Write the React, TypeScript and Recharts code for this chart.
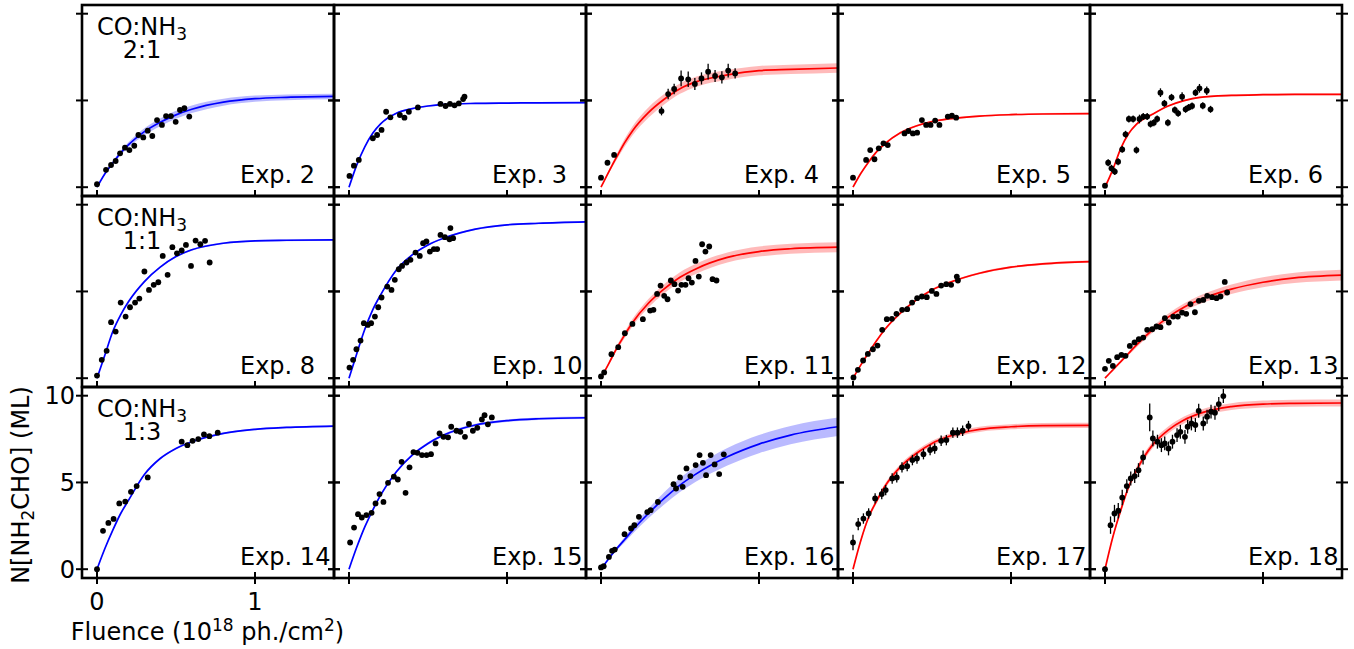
import React from "react";
import { ComposedChart, Line, Area, Scatter, ErrorBar, XAxis, YAxis } from "recharts";

// fluence grid used for the fitted curves (10^18 ph./cm^2)
const fitX = [0, 0.05, 0.1, 0.15, 0.2, 0.3, 0.4, 0.5, 0.6, 0.8, 1.0, 1.2, 1.5];

const ratios = ["2:1", "1:1", "1:3"];

// Exp. 2
const exp2F = [0, 0.057, 0.089, 0.118, 0.146, 0.177, 0.205, 0.236, 0.262, 0.293, 0.321, 0.35, 0.38, 0.411, 0.437, 0.468, 0.498, 0.525, 0.553, 0.584];
const exp2N = [0.17, 1.0, 1.28, 1.51, 1.95, 2.28, 2.14, 2.39, 3.01, 2.87, 3.26, 2.95, 3.87, 3.59, 4.1, 4.1, 3.77, 4.45, 4.55, 4.07];
const exp2Fit = [0, 0.78, 1.4, 1.98, 2.45, 3.2, 3.74, 4.17, 4.49, 4.9, 5.1, 5.18, 5.23];
const exp2Band = [0, 0.05, 0.09, 0.12, 0.15, 0.2, 0.22, 0.23, 0.22, 0.2, 0.18, 0.17, 0.16];

// Exp. 3
const exp3F = [0.003, 0.031, 0.062, 0.151, 0.178, 0.206, 0.235, 0.262, 0.322, 0.351, 0.379, 0.436, 0.579, 0.611, 0.639, 0.668, 0.695, 0.722, 0.731];
const exp3N = [0.65, 1.24, 1.57, 2.82, 3.01, 3.3, 4.35, 4.03, 4.16, 4.01, 4.35, 4.6, 4.8, 4.68, 4.8, 4.72, 4.83, 5.08, 5.22];
const exp3Fit = [0, 1.3, 2.33, 3.11, 3.65, 4.26, 4.53, 4.68, 4.77, 4.83, 4.85, 4.86, 4.87];
const exp3Band = [0, 0.03, 0.04, 0.04, 0.04, 0.04, 0.04, 0.04, 0.04, 0.04, 0.04, 0.04, 0.04];

// Exp. 4
const exp4F = [0, 0.041, 0.083, 0.383, 0.425, 0.463, 0.507, 0.552, 0.594, 0.636, 0.678, 0.722, 0.765, 0.805, 0.849];
const exp4N = [0.55, 1.41, 1.86, 4.39, 5.37, 5.66, 6.27, 6.22, 5.95, 6.27, 6.66, 6.41, 6.33, 6.72, 6.56];
const exp4Err = [0.12, 0.12, 0.12, 0.25, 0.3, 0.3, 0.45, 0.45, 0.35, 0.35, 0.45, 0.35, 0.35, 0.4, 0.3];
const exp4Fit = [0, 0.9, 1.76, 2.57, 3.26, 4.3, 5.07, 5.68, 6.07, 6.47, 6.72, 6.79, 6.87];
const exp4Band = [0, 0.1, 0.17, 0.22, 0.26, 0.3, 0.3, 0.3, 0.29, 0.28, 0.27, 0.27, 0.27];

// Exp. 5
const exp5F = [0, 0.083, 0.109, 0.136, 0.163, 0.193, 0.22, 0.326, 0.351, 0.379, 0.406, 0.436, 0.463, 0.491, 0.52, 0.547, 0.6, 0.626, 0.653];
const exp5N = [0.55, 1.57, 2.14, 1.61, 2.24, 2.53, 2.43, 3.1, 3.24, 3.1, 3.14, 3.87, 3.59, 3.59, 3.84, 3.59, 4.07, 4.12, 4.01];
const exp5Fit = [0, 0.8, 1.47, 2.05, 2.49, 3.14, 3.53, 3.78, 3.93, 4.1, 4.18, 4.22, 4.24];
const exp5Band = [0, 0.04, 0.05, 0.05, 0.05, 0.05, 0.05, 0.05, 0.05, 0.05, 0.05, 0.05, 0.05];

// Exp. 6
const exp6F = [0, 0.02, 0.041, 0.062, 0.083, 0.109, 0.13, 0.151, 0.178, 0.199, 0.218, 0.242, 0.267, 0.288, 0.309, 0.33, 0.351, 0.376, 0.398, 0.421, 0.442, 0.463, 0.488, 0.51, 0.53, 0.551, 0.573, 0.598, 0.619, 0.644, 0.668];
const exp6N = [0.09, 1.41, 1.09, 0.9, 1.47, 2.18, 3.05, 3.93, 3.93, 2.14, 3.93, 4.07, 4.07, 3.64, 3.72, 3.93, 5.45, 4.83, 3.72, 5.18, 4.45, 4.26, 5.22, 4.49, 4.6, 4.68, 5.45, 5.7, 4.7, 5.56, 4.49];
const exp6Err = [0.15, 0.2, 0.2, 0.2, 0.2, 0.2, 0.2, 0.2, 0.2, 0.2, 0.25, 0.2, 0.2, 0.2, 0.2, 0.2, 0.25, 0.2, 0.2, 0.2, 0.2, 0.2, 0.25, 0.2, 0.2, 0.2, 0.2, 0.25, 0.2, 0.25, 0.2];
const exp6Fit = [0, 1.03, 2.24, 3.1, 3.64, 4.2, 4.68, 4.99, 5.18, 5.29, 5.33, 5.35, 5.35];
const exp6Band = [0, 0.04, 0.05, 0.05, 0.05, 0.05, 0.05, 0.05, 0.05, 0.05, 0.05, 0.05, 0.05];

// Exp. 8
const exp8F = [0, 0.03, 0.061, 0.089, 0.118, 0.15, 0.181, 0.209, 0.241, 0.268, 0.3, 0.329, 0.359, 0.388, 0.416, 0.447, 0.477, 0.506, 0.536, 0.563, 0.595, 0.624, 0.654, 0.684, 0.713];
const exp8N = [0.15, 1.06, 1.58, 3.23, 2.69, 4.36, 3.55, 4.09, 4.36, 4.59, 6.15, 5.09, 5.38, 5.53, 7.05, 5.96, 7.55, 7.2, 7.36, 7.68, 6.47, 7.93, 7.72, 7.92, 6.67];
const exp8Fit = [0, 1.34, 2.69, 3.65, 4.42, 5.57, 6.4, 7.01, 7.4, 7.78, 7.92, 7.95, 7.97];
const exp8Band = [0, 0.04, 0.05, 0.05, 0.05, 0.05, 0.05, 0.05, 0.05, 0.05, 0.05, 0.05, 0.05];

// Exp. 10
const exp10F = [0.003, 0.026, 0.047, 0.073, 0.094, 0.119, 0.14, 0.164, 0.185, 0.206, 0.242, 0.269, 0.29, 0.315, 0.336, 0.364, 0.389, 0.421, 0.448, 0.469, 0.49, 0.512, 0.537, 0.558, 0.579, 0.607, 0.636, 0.642, 0.659];
const exp10N = [0.61, 1.06, 1.67, 2.17, 3.17, 3.07, 3.17, 3.55, 4.09, 4.65, 5.28, 5.09, 5.67, 6.28, 6.47, 6.67, 6.82, 7.24, 7.05, 7.78, 7.88, 7.3, 7.44, 7.44, 8.26, 8.13, 8.01, 8.65, 8.07];
const exp10Fit = [0, 1.44, 2.82, 3.94, 4.8, 6.24, 7.11, 7.68, 8.07, 8.59, 8.84, 8.93, 9.01];
const exp10Band = [0, 0.04, 0.05, 0.05, 0.05, 0.05, 0.05, 0.05, 0.05, 0.05, 0.05, 0.05, 0.05];

// Exp. 11
const exp11F = [0, 0.02, 0.066, 0.109, 0.151, 0.199, 0.265, 0.311, 0.332, 0.355, 0.377, 0.4, 0.421, 0.442, 0.465, 0.488, 0.509, 0.535, 0.554, 0.575, 0.598, 0.619, 0.64, 0.661, 0.685, 0.706, 0.731];
const exp11N = [0.1, 0.33, 1.38, 1.79, 2.59, 3.13, 3.4, 3.9, 3.94, 4.86, 5.34, 4.75, 4.55, 5.63, 5.42, 5.05, 5.38, 5.38, 5.76, 5.51, 6.76, 5.86, 7.72, 7.3, 7.59, 5.71, 5.63];
const exp11Fit = [0, 0.86, 1.73, 2.5, 3.21, 4.32, 5.15, 5.82, 6.3, 6.96, 7.3, 7.46, 7.55];
const exp11Band = [0, 0.08, 0.14, 0.18, 0.21, 0.25, 0.27, 0.28, 0.29, 0.29, 0.29, 0.29, 0.29];

// Exp. 12
const exp12F = [0.003, 0.031, 0.064, 0.094, 0.126, 0.155, 0.185, 0.214, 0.246, 0.275, 0.311, 0.343, 0.374, 0.406, 0.436, 0.467, 0.499, 0.528, 0.558, 0.59, 0.621, 0.657, 0.664];
const exp12N = [0.04, 0.48, 1.02, 1.4, 1.67, 1.88, 2.79, 3.4, 3.42, 3.71, 3.94, 3.98, 4.36, 4.61, 4.71, 4.67, 5.03, 4.86, 5.34, 5.42, 5.38, 5.86, 5.63];
const exp12Fit = [0, 0.77, 1.48, 2.17, 2.79, 3.75, 4.51, 5.09, 5.48, 6.05, 6.4, 6.59, 6.72];
const exp12Band = [0, 0.04, 0.06, 0.06, 0.06, 0.06, 0.06, 0.06, 0.06, 0.06, 0.06, 0.06, 0.06];

// Exp. 13
const exp13F = [0, 0.024, 0.05, 0.077, 0.104, 0.13, 0.157, 0.187, 0.214, 0.242, 0.267, 0.299, 0.326, 0.351, 0.379, 0.404, 0.432, 0.461, 0.488, 0.514, 0.541, 0.569, 0.594, 0.622, 0.647, 0.678, 0.706, 0.731, 0.758, 0.773];
const exp13N = [0.54, 1.0, 0.71, 1.21, 1.34, 1.29, 1.86, 2.06, 2.25, 2.34, 2.79, 2.82, 2.98, 2.94, 3.46, 3.21, 3.55, 3.55, 3.78, 3.71, 4.27, 3.8, 4.46, 4.51, 4.75, 4.67, 4.61, 4.71, 5.55, 4.94];
const exp13Fit = [0, 0.48, 0.96, 1.44, 1.92, 2.79, 3.52, 4.09, 4.52, 5.13, 5.53, 5.78, 5.94];
const exp13Band = [0, 0.04, 0.07, 0.1, 0.13, 0.17, 0.2, 0.22, 0.24, 0.27, 0.29, 0.3, 0.31];

// Exp. 14
const exp14F = [0, 0.038, 0.072, 0.105, 0.141, 0.179, 0.215, 0.251, 0.321, 0.536, 0.572, 0.605, 0.641, 0.677, 0.711, 0.764];
const exp14N = [0, 2.21, 2.67, 2.9, 3.79, 3.9, 4.46, 4.79, 5.29, 7.35, 7.15, 7.4, 7.5, 7.77, 7.67, 7.87];
const exp14Fit = [0, 1.19, 2.25, 3.21, 3.98, 5.46, 6.38, 6.96, 7.35, 7.83, 8.06, 8.17, 8.25];
const exp14Band = [0, 0.04, 0.05, 0.05, 0.05, 0.05, 0.05, 0.05, 0.05, 0.05, 0.05, 0.05, 0.05];

// Exp. 15
const exp15F = [0.007, 0.032, 0.057, 0.081, 0.11, 0.143, 0.168, 0.193, 0.218, 0.247, 0.284, 0.309, 0.333, 0.358, 0.383, 0.408, 0.433, 0.462, 0.491, 0.519, 0.548, 0.573, 0.598, 0.627, 0.647, 0.68, 0.705, 0.734, 0.759, 0.784, 0.812, 0.841, 0.858, 0.879, 0.904];
const exp15N = [1.54, 2.4, 3.17, 2.98, 3.12, 3.25, 3.79, 4.33, 3.88, 4.98, 5.33, 5.17, 6.19, 4.4, 5.87, 6.75, 6.71, 6.58, 6.58, 6.63, 7.25, 7.83, 7.63, 7.6, 8.21, 7.98, 7.92, 7.63, 8.37, 7.98, 8.15, 8.63, 8.88, 8.35, 8.75];
const exp15Fit = [0, 1.29, 2.44, 3.4, 4.27, 5.62, 6.58, 7.25, 7.73, 8.31, 8.56, 8.67, 8.73];
const exp15Band = [0, 0.04, 0.06, 0.06, 0.07, 0.07, 0.07, 0.07, 0.07, 0.07, 0.07, 0.07, 0.07];

// Exp. 16
const exp16F = [0, 0.017, 0.05, 0.07, 0.087, 0.149, 0.19, 0.211, 0.24, 0.293, 0.314, 0.36, 0.459, 0.475, 0.5, 0.517, 0.541, 0.566, 0.599, 0.624, 0.645, 0.665, 0.694, 0.719, 0.748, 0.777];
const exp16N = [0.1, 0.17, 0.71, 1.06, 1.13, 2.02, 2.35, 2.54, 3.02, 3.29, 3.4, 3.88, 4.9, 4.65, 5.29, 4.75, 5.81, 5.37, 6.0, 6.58, 6.13, 5.42, 6.58, 6.04, 5.48, 6.62];
const exp16Fit = [0, 0.62, 1.19, 1.71, 2.25, 3.21, 4.08, 4.85, 5.48, 6.48, 7.21, 7.73, 8.21];
const exp16Band = [0, 0.05, 0.1, 0.15, 0.2, 0.28, 0.35, 0.4, 0.44, 0.5, 0.52, 0.53, 0.53];

// Exp. 17
const exp17F = [0, 0.033, 0.066, 0.099, 0.14, 0.182, 0.207, 0.248, 0.277, 0.31, 0.343, 0.376, 0.405, 0.446, 0.488, 0.517, 0.558, 0.591, 0.632, 0.661, 0.694, 0.731];
const exp17N = [1.54, 2.6, 2.92, 3.21, 4.08, 4.33, 4.56, 5.23, 5.29, 5.87, 5.94, 6.29, 6.38, 6.63, 6.87, 6.96, 7.4, 7.44, 7.87, 7.87, 7.98, 8.25];
const exp17Err = [0.45, 0.35, 0.3, 0.3, 0.3, 0.3, 0.3, 0.3, 0.3, 0.3, 0.3, 0.3, 0.3, 0.3, 0.3, 0.3, 0.3, 0.3, 0.3, 0.3, 0.3, 0.3];
const exp17Fit = [0, 1.67, 3.02, 3.94, 4.75, 5.9, 6.67, 7.25, 7.63, 8.06, 8.21, 8.27, 8.29];
const exp17Band = [0, 0.08, 0.12, 0.14, 0.15, 0.15, 0.15, 0.15, 0.15, 0.15, 0.15, 0.15, 0.15];

// Exp. 18
const exp18F = [0, 0.035, 0.06, 0.084, 0.109, 0.138, 0.163, 0.188, 0.212, 0.241, 0.283, 0.303, 0.332, 0.357, 0.378, 0.402, 0.427, 0.456, 0.477, 0.506, 0.523, 0.547, 0.572, 0.593, 0.622, 0.646, 0.671, 0.696, 0.72, 0.749];
const exp18N = [0, 2.54, 3.21, 3.37, 4.13, 4.79, 5.23, 5.37, 5.71, 6.44, 8.75, 7.54, 7.35, 7.15, 7.25, 6.96, 7.35, 7.73, 7.92, 7.63, 8.21, 8.4, 8.31, 9.13, 8.4, 8.79, 9.08, 9.02, 9.52, 9.98];
const exp18Err = [0.15, 0.5, 0.5, 0.45, 0.45, 0.4, 0.4, 0.4, 0.4, 0.4, 0.8, 0.45, 0.4, 0.4, 0.4, 0.4, 0.4, 0.4, 0.4, 0.4, 0.4, 0.4, 0.4, 0.4, 0.4, 0.4, 0.4, 0.4, 0.4, 0.4];
const exp18Fit = [0, 1.87, 3.4, 4.75, 5.71, 7.15, 8.02, 8.6, 8.98, 9.37, 9.52, 9.56, 9.58];
const exp18Band = [0, 0.1, 0.15, 0.18, 0.2, 0.2, 0.2, 0.2, 0.2, 0.2, 0.2, 0.2, 0.2];

const BLUE = "#0000ff";
const RED = "#ff0000";

const panels = [
  { name: "Exp. 2", color: BLUE, f: exp2F, n: exp2N, fit: exp2Fit, band: exp2Band },
  { name: "Exp. 3", color: BLUE, f: exp3F, n: exp3N, fit: exp3Fit, band: exp3Band },
  { name: "Exp. 4", color: RED, f: exp4F, n: exp4N, err: exp4Err, fit: exp4Fit, band: exp4Band },
  { name: "Exp. 5", color: RED, f: exp5F, n: exp5N, fit: exp5Fit, band: exp5Band },
  { name: "Exp. 6", color: RED, f: exp6F, n: exp6N, err: exp6Err, fit: exp6Fit, band: exp6Band },
  { name: "Exp. 8", color: BLUE, f: exp8F, n: exp8N, fit: exp8Fit, band: exp8Band },
  { name: "Exp. 10", color: BLUE, f: exp10F, n: exp10N, fit: exp10Fit, band: exp10Band },
  { name: "Exp. 11", color: RED, f: exp11F, n: exp11N, fit: exp11Fit, band: exp11Band },
  { name: "Exp. 12", color: RED, f: exp12F, n: exp12N, fit: exp12Fit, band: exp12Band },
  { name: "Exp. 13", color: RED, f: exp13F, n: exp13N, fit: exp13Fit, band: exp13Band },
  { name: "Exp. 14", color: BLUE, f: exp14F, n: exp14N, fit: exp14Fit, band: exp14Band },
  { name: "Exp. 15", color: BLUE, f: exp15F, n: exp15N, fit: exp15Fit, band: exp15Band },
  { name: "Exp. 16", color: BLUE, f: exp16F, n: exp16N, fit: exp16Fit, band: exp16Band },
  { name: "Exp. 17", color: RED, f: exp17F, n: exp17N, err: exp17Err, fit: exp17Fit, band: exp17Band },
  { name: "Exp. 18", color: RED, f: exp18F, n: exp18N, err: exp18Err, fit: exp18Fit, band: exp18Band },
];

// layout
const COL_L = [82, 334, 586, 838, 1090];
const ROW_T = [5, 196, 387];
const PW = 252;
const PH = 191;
const XDOM: [number, number] = [-15 / 158, 237 / 158];
const YDOM: [number, number] = [-8.8 / 17.35, 182.2 / 17.35];
const FS = 24;

const dot = (props: any) => <circle cx={props.cx} cy={props.cy} r={2.9} fill="#000" />;

function Panel({ p, r, c }: { p: any; r: number; c: number }) {
  const pad = 10;
  const padL = c === 0 && r === 2 ? 60 : pad;
  const padB = r === 2 ? 40 : pad;
  const showLabels = c === 0 && r === 2;

  const curve = fitX.map((x, i) => ({
    x,
    fit: p.fit[i],
    band: [p.fit[i] - p.band[i], p.fit[i] + p.band[i]],
  }));
  const pts = p.f.map((x: number, i: number) => ({ x, y: p.n[i], e: p.err ? p.err[i] : 0 }));

  // ticks: x ticks point inward (and out on the bottom row), y ticks cross the frame on both sides
  const xTick = (t: any) => (
    <g>
      <line x1={t.x} x2={t.x} y1={t.y - 6} y2={r === 2 ? t.y + 6 : t.y} stroke="#000" strokeWidth={2} />
      {showLabels && (
        <text x={t.x} y={t.y + 32} textAnchor="middle" fontSize={FS} fill="#000">
          {t.payload.value}
        </text>
      )}
    </g>
  );
  const yTick = (t: any) => (
    <g>
      <line x1={t.x - 6} x2={t.x + 6} y1={t.y} y2={t.y} stroke="#000" strokeWidth={2} />
      <line x1={t.x + PW - 6} x2={t.x + PW + 6} y1={t.y} y2={t.y} stroke="#000" strokeWidth={2} />
      {showLabels && (
        <text x={t.x - 7} y={t.y + 8.6} textAnchor="end" fontSize={FS} fill="#000">
          {t.payload.value}
        </text>
      )}
    </g>
  );

  return (
    <div style={{ position: "absolute", left: COL_L[c] - padL, top: ROW_T[r] - pad }}>
      <ComposedChart
        width={PW + padL + pad}
        height={PH + pad + padB}
        data={curve}
        margin={{ top: pad, right: pad, bottom: padB - 1, left: padL - 1 }}
      >
        <XAxis
          type="number"
          dataKey="x"
          domain={XDOM}
          allowDataOverflow
          ticks={[0, 1]}
          interval={0}
          height={1}
          tickSize={0}
          tickMargin={0}
          axisLine={false}
          tickLine={false}
          tick={xTick}
        />
        <YAxis
          type="number"
          domain={YDOM}
          allowDataOverflow
          ticks={[0, 5, 10]}
          interval={0}
          width={1}
          tickSize={0}
          tickMargin={0}
          axisLine={false}
          tickLine={false}
          tick={yTick}
        />
        <Area dataKey="band" type="monotone" stroke="none" fill={p.color} fillOpacity={0.27} isAnimationActive={false} />
        <Line dataKey="fit" type="monotone" stroke={p.color} strokeWidth={1.7} dot={false} isAnimationActive={false} />
        <Scatter data={pts} dataKey="y" fill="#000" shape={dot} isAnimationActive={false}>
          {p.err && <ErrorBar dataKey="e" direction="y" width={0} stroke="#000" strokeWidth={1.3} />}
        </Scatter>
      </ComposedChart>
    </div>
  );
}

export default function App() {
  return (
    <div
      style={{
        position: "absolute",
        left: 0,
        top: 0,
        width: 1354,
        height: 649,
        background: "#fff",
        fontFamily: "DejaVu Sans, sans-serif",
        overflow: "hidden",
      }}
    >
      {panels.map((p, i) => (
        <Panel key={p.name} p={p} r={Math.floor(i / 5)} c={i % 5} />
      ))}
      <svg width={1354} height={649} style={{ position: "absolute", left: 0, top: 0, pointerEvents: "none" }}>
        {panels.map((p, i) => {
          const r = Math.floor(i / 5);
          const c = i % 5;
          return (
            <g key={p.name}>
              <rect x={COL_L[c]} y={ROW_T[r]} width={PW} height={PH} fill="none" stroke="#000" strokeWidth={2.6} />
              <text x={COL_L[c] + 158} y={ROW_T[r] + 178.3} fontSize={FS} fill="#000">
                {p.name}
              </text>
            </g>
          );
        })}
        {ratios.map((ratio, r) => (
          <g key={ratio}>
            <text x={97} y={ROW_T[r] + 30} fontSize={FS} fill="#000">
              CO:NH
              <tspan fontSize={17} dy={5}>3</tspan>
            </text>
            <text x={142} y={ROW_T[r] + 52.5} fontSize={FS} fill="#000" textAnchor="middle">
              {ratio}
            </text>
          </g>
        ))}
        <text transform="translate(29,485) rotate(-90)" textAnchor="middle" fontSize={FS} fill="#000">
          N[NH
          <tspan fontSize={17} dy={5}>2</tspan>
          <tspan dy={-5}>CHO] (ML)</tspan>
        </text>
        <text x={207.5} y={640} textAnchor="middle" fontSize={FS} fill="#000">
          Fluence (10
          <tspan fontSize={17} dy={-9}>18</tspan>
          <tspan dy={9}> ph./cm</tspan>
          <tspan fontSize={17} dy={-9}>2</tspan>
          <tspan dy={9}>)</tspan>
        </text>
      </svg>
    </div>
  );
}
